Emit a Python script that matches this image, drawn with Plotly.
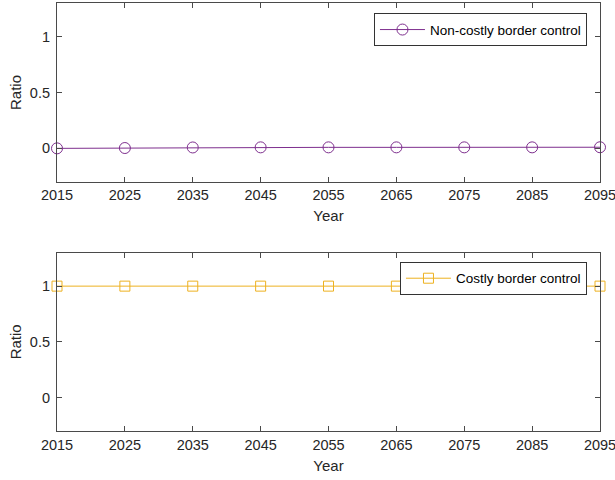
import plotly.graph_objects as go
from plotly.subplots import make_subplots

years = [2015, 2025, 2035, 2045, 2055, 2065, 2075, 2085, 2095]
non_costly = [0.0, 0.003, 0.008, 0.009, 0.009, 0.009, 0.009, 0.009, 0.01]
costly = [1.0, 1.0, 1.0, 1.0, 1.0, 1.0, 1.0, 1.0, 1.0]
xticks = [2015, 2025, 2035, 2045, 2055, 2065, 2075, 2085, 2095]
yticks = [0, 0.5, 1]
yticklabels = ["0", "0.5", "1"]

purple = "#7E2F8E"
yellow = "#EDB120"
axcol = "#4a4a4a"
font = "Liberation Sans, Arial, sans-serif"

fig = make_subplots(rows=2, cols=1, vertical_spacing=0.165)

fig.add_trace(go.Scatter(x=years, y=non_costly, mode="lines+markers",
                         name="Non-costly border control", showlegend=True,
                         cliponaxis=False,
                         line=dict(color=purple, width=1),
                         marker=dict(symbol="circle-open", size=11, color=purple,
                                     line=dict(width=1, color=purple)),
                         legend="legend"), row=1, col=1)
fig.add_trace(go.Scatter(x=years, y=costly, mode="lines+markers",
                         name="Costly border control", showlegend=True,
                         cliponaxis=False,
                         line=dict(color=yellow, width=1),
                         marker=dict(symbol="square-open", size=10, color=yellow,
                                     line=dict(width=1, color=yellow)),
                         legend="legend2"), row=2, col=1)

for r in (1, 2):
    fig.update_xaxes(row=r, col=1, range=[2015, 2095], tickvals=xticks,
                     ticks="inside", ticklen=5, tickcolor=axcol, automargin=False,
                     showline=True, linecolor=axcol, linewidth=1.2, mirror="ticks",
                     showgrid=False, zeroline=False, ticklabeloverflow="allow",
                     title=dict(text="Year", standoff=8, font=dict(size=15, color="#262626")),
                     tickfont=dict(size=14.5, color="#262626"))
    fig.update_yaxes(row=r, col=1, range=[-0.3, 1.3], tickvals=yticks, ticktext=yticklabels,
                     ticks="inside", ticklen=5, tickcolor=axcol, automargin=True,
                     ticklabelstandoff=3,
                     showline=True, linecolor=axcol, linewidth=1.2, mirror="ticks",
                     showgrid=False, zeroline=False,
                     title=dict(text="Ratio", standoff=4, font=dict(size=15, color="#262626")),
                     tickfont=dict(size=14.5, color="#262626"))

fig.update_layout(
    width=615, height=480,
    margin=dict(l=57, r=15, t=3, b=49),
    plot_bgcolor="white", paper_bgcolor="white",
    font=dict(family=font, color="#262626"),
    legend=dict(x=0.976, y=0.976, xanchor="right", yanchor="top", itemwidth=45,
                bgcolor="white", bordercolor="#333333", borderwidth=1,
                font=dict(size=13.5, color="#000000")),
    legend2=dict(x=0.976, y=0.395, xanchor="right", yanchor="top", itemwidth=45,
                 bgcolor="white", bordercolor="#333333", borderwidth=1,
                 font=dict(size=13.5, color="#000000")),
)
fig.update_layout(yaxis=dict(domain=[0.582, 1.0]), yaxis2=dict(domain=[0.0, 0.4166]))

fig.write_html("out.html")
